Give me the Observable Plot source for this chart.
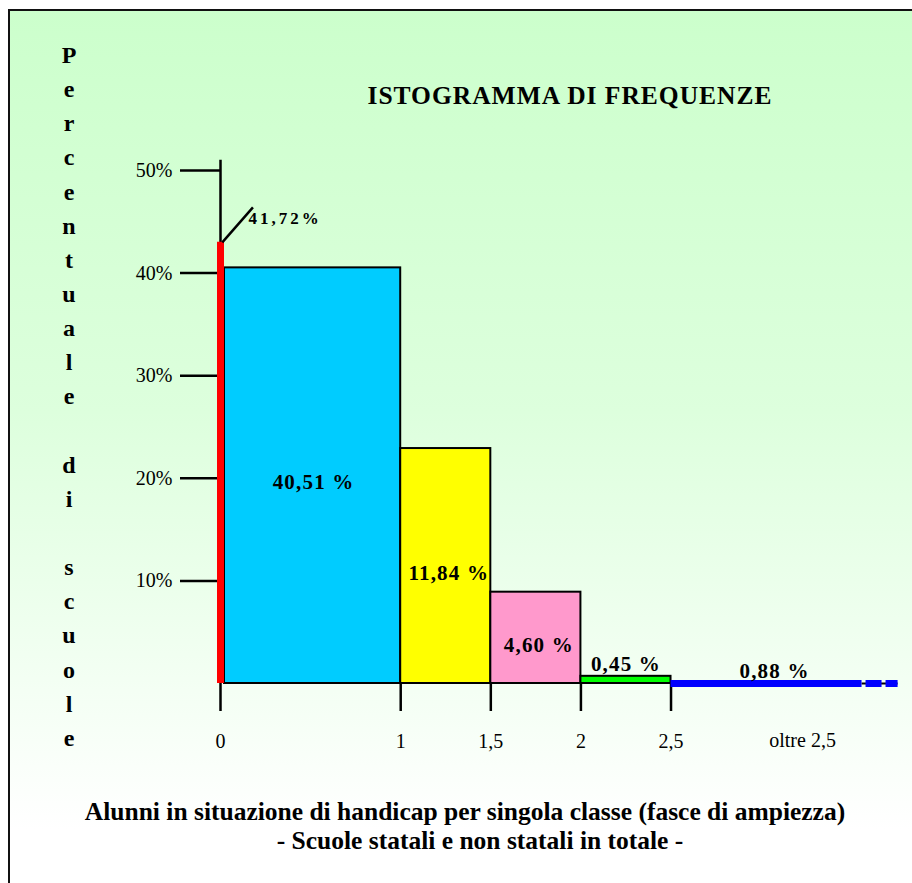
<!DOCTYPE html>
<html>
<head>
<meta charset="utf-8">
<script src="https://cdn.jsdelivr.net/npm/d3@7"></script>
<script src="https://cdn.jsdelivr.net/npm/@observablehq/plot@0.6"></script>
<style>
html, body { margin: 0; padding: 0; background: #ffffff; }
#wrap { position: relative; width: 912px; height: 883px; overflow: hidden; background: #ffffff;
  font-family: "Liberation Serif", "Times New Roman", serif; color: #000; }
#panel { position: absolute; left: 8px; top: 9px; width: 920px; height: 890px;
  border-left: 2.5px solid #111; border-top: 2.5px solid #111;
  background: linear-gradient(to bottom, #ccffcc 0%, #ddffdd 45%, #f3fff3 75%, #ffffff 92%); }
#chart { position: absolute; left: 0; top: 0; }
#vlabel { position: absolute; left: 49px; top: 38px; width: 40px; text-align: center;
  font-family: "Liberation Serif", serif; font-weight: bold; font-size: 24px; }
#vlabel div { height: 34.15px; line-height: 34.15px; }
#title { position: absolute; left: 570px; top: 83px; transform: translateX(-50%); white-space: nowrap;
  font-family: "Liberation Serif", serif;
  font-weight: bold; font-size: 25.5px; line-height: 25.5px; letter-spacing: 1px; }
.foot { position: absolute; transform: translateX(-50%); white-space: nowrap;
  font-family: "Liberation Serif", serif;
  font-weight: bold; font-size: 25.5px; line-height: 25.5px; }
</style>
</head>
<body>
<div id="wrap">
  <div id="panel"></div>
  <div id="chart"></div>
  <div id="vlabel"></div>
  <div id="title"></div>
  <div id="foot1" class="foot" style="left:465px; top:799px;"></div>
  <div id="foot2" class="foot" style="left:480px; top:828px;"></div>
</div>
<script>
// ---- texts ----
const chartTitle = "ISTOGRAMMA DI FREQUENZE";
const yAxisTitle = "Percentuale di scuole";
const footerLine1 = "Alunni in situazione di handicap per singola classe (fasce di ampiezza)";
const footerLine2 = "- Scuole statali e non statali in totale -";

// ---- classes (fasce di ampiezza) ----
const classStart = [0, 1, 1.5, 2];
const classEnd = [1, 1.5, 2, 2.5];
// drawn heights (frequency density, % per unit width)
const barHeights = [40.51, 22.9, 8.9, 0.7];
const barColors = ["#00ccff", "#ffff00", "#ff99cc", "#00ff00"];
const barLabels = ["40,51 %", "11,84 %", "4,60 %", "0,45 %"];
const labelInside = [true, true, true, false];

// open-ended class "oltre 2,5"
const overStart = 2.5;
const overSolidEnd = 3.56;
const overDashEnd = 3.76;
const overLabel = "0,88 %";
const overColor = "#0000ff";

// class "0" drawn as a spike
const zeroHeight = 43;
const zeroLabel = "41,72%";
const zeroColor = "#ff0000";

// ---- ticks ----
const xTicks = [0, 1, 1.5, 2, 2.5];
const xTickLabels = ["0", "1", "1,5", "2", "2,5"];
const overTickLabel = "oltre 2,5";
const overTickPos = 3.23;
const yTicks = [10, 20, 30, 40, 50];
const yTickLabels = ["10%", "20%", "30%", "40%", "50%"];

// ---- HTML texts ----
const vl = document.getElementById("vlabel");
for (const ch of yAxisTitle) {
  const d = document.createElement("div");
  d.textContent = ch === " " ? "\u00a0" : ch;
  vl.appendChild(d);
}
document.getElementById("title").textContent = chartTitle;
document.getElementById("foot1").textContent = footerLine1;
document.getElementById("foot2").textContent = footerLine2;

// ---- data tables ----
const bars = classStart.map((s, i) => ({
  x1: s, x2: classEnd[i], h: barHeights[i], color: barColors[i],
  label: barLabels[i], inside: labelInside[i], first: i === 0
}));
const over = [{x1: overStart, x2: overSolidEnd, x3: overDashEnd, label: overLabel}];

const F = "Liberation Serif";

const plot = Plot.plot({
  width: 912,
  height: 883,
  marginTop: 170,
  marginBottom: 200,
  marginLeft: 220,
  marginRight: 0,
  style: {background: "transparent", fontFamily: F, overflow: "visible", color: "#000"},
  x: {type: "linear", domain: [0, 3.84]},
  y: {domain: [0, 50]},
  color: {type: "identity"},
  marks: [
    // axis lines
    Plot.ruleX([0], {y1: 0, y2: 51, stroke: "#000", strokeWidth: 2.5}),
    Plot.axisY({ticks: yTicks, tickFormat: (d) => yTickLabels[yTicks.indexOf(d)], tickSize: 40,
      tickPadding: 8, strokeWidth: 2.5, fontSize: 20, fontFamily: F, label: null}),
    Plot.axisX({ticks: xTicks, tickFormat: (d) => xTickLabels[xTicks.indexOf(d)], tickSize: 28,
      tickPadding: 22, strokeWidth: 2.5, fontSize: 20, fontFamily: F, label: null}),
    Plot.text([overTickLabel], {x: overTickPos, y: 0, dy: 57, text: (d) => d, fontSize: 20,
      fontFamily: F, lineAnchor: "middle"}),
    // bars
    Plot.rectY(bars.filter((d) => d.first), {x1: "x1", x2: "x2", y1: 0, y2: "h", fill: "color",
      stroke: "#000", strokeWidth: 2, insetLeft: 4}),
    Plot.rectY(bars.filter((d) => !d.first), {x1: "x1", x2: "x2", y1: 0, y2: "h", fill: "color",
      stroke: "#000", strokeWidth: 2}),
    // open-ended class
    Plot.ruleY(over, {x1: "x2", x2: "x3", y: 0, stroke: "#000", strokeWidth: 2}),
    Plot.ruleY(over, {x1: "x2", x2: "x3", y: 0, stroke: overColor, strokeWidth: 7,
      strokeDasharray: "16,4", strokeDashoffset: -4}),
    Plot.ruleY(over, {x1: "x1", x2: "x2", y: 0, stroke: overColor, strokeWidth: 7}),
    // zero class spike
    Plot.ruleX([zeroHeight], {x: 0, y1: 0, y2: (d) => d, stroke: zeroColor, strokeWidth: 7}),
    Plot.link([zeroHeight], {x1: 0.01, y1: (d) => d, x2: 0.18, y2: (d) => d + 3.4, stroke: "#000",
      strokeWidth: 2.5}),
    Plot.text([zeroLabel], {x: 0.155, y: zeroHeight + 2.3, text: (d) => d, textAnchor: "start",
      fontSize: 17, fontWeight: "bold", fontFamily: F, lineAnchor: "middle"}),
    // value labels
    Plot.text(bars.filter((d) => d.inside), {x: (d) => (d.x1 + d.x2) / 2, y: (d) => d.h / 2,
      text: "label", dy: 7, dx: 3, fontSize: 21, fontWeight: "bold", fontFamily: F, lineAnchor: "middle"}),
    Plot.text(bars.filter((d) => !d.inside), {x: (d) => (d.x1 + d.x2) / 2, y: "h",
      text: "label", dy: -5, fontSize: 21, fontWeight: "bold", fontFamily: F, lineAnchor: "bottom"}),
    Plot.text(over, {x: (d) => (d.x1 + d.x2) / 2, y: 0, text: "label", dx: 8, dy: -6,
      fontSize: 21, fontWeight: "bold", fontFamily: F, lineAnchor: "bottom"})
  ]
});
document.getElementById("chart").appendChild(plot);

// letter spacing of value labels
d3.select(plot).selectAll("text").each(function () {
  const t = this.textContent;
  if (t === zeroLabel) d3.select(this).attr("letter-spacing", "3px");
  else if (barLabels.includes(t) || t === overLabel) d3.select(this).attr("letter-spacing", "1.2px");
});
</script>
</body>
</html>
